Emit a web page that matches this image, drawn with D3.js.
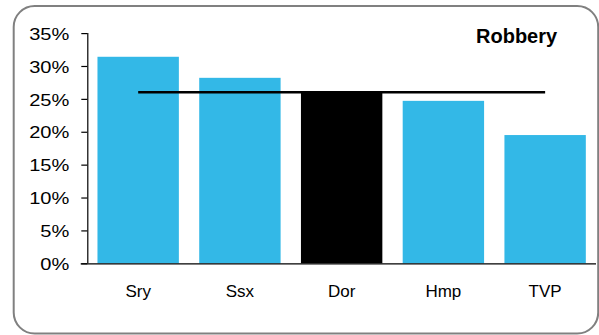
<!DOCTYPE html>
<html>
<head>
<meta charset="utf-8">
<script src="https://cdn.jsdelivr.net/npm/d3@7"></script>
<style>
  html, body { margin: 0; padding: 0; background: #fff; }
  svg { display: block; }
  text { font-family: "Liberation Sans", Arial, sans-serif; fill: #000; }
</style>
</head>
<body>
<svg id="chart" width="599" height="335"></svg>
<script>
const categories = ["Sry", "Ssx", "Dor", "Hmp", "TVP"];
const values = [0.314, 0.282, 0.260, 0.247, 0.195];
const highlight = ["Dor"];
const averageValue = 0.26;
const yTicks = [0, 0.05, 0.10, 0.15, 0.20, 0.25, 0.30, 0.35];
const title = "Robbery";

(function () {
const svg = d3.select("#chart");

// frame
svg.append("rect")
  .attr("x", 13.7).attr("y", 6)
  .attr("width", 584.5).attr("height", 327.5)
  .attr("rx", 21).attr("ry", 21)
  .attr("fill", "#fff")
  .attr("stroke", "#808080")
  .attr("stroke-width", 2);

const pLeft = 87.3, pRight = 596, pTop = 33.1, pBottom = 263.3;

const x = d3.scaleBand().domain(categories).range([pLeft, pRight])
  .paddingInner(0.2).paddingOuter(0.1);
const y = d3.scaleLinear().domain([0, 0.35]).range([pBottom, pTop]);

// bars
svg.append("g").selectAll("rect")
  .data(categories.map((c, i) => ({ c, v: values[i] })))
  .join("rect")
  .attr("x", d => x(d.c))
  .attr("y", d => y(d.v))
  .attr("width", x.bandwidth())
  .attr("height", d => pBottom - y(d.v))
  .attr("fill", d => highlight.includes(d.c) ? "#000000" : "#33B8E7");

// y axis
const yAxis = svg.append("g")
  .attr("transform", `translate(${pLeft},0)`)
  .call(d3.axisLeft(y).tickValues(yTicks).tickFormat(d3.format(".0%")).tickSize(6).tickPadding(0));
yAxis.select(".domain").attr("stroke", "#000").attr("stroke-width", 1.2)
  .attr("d", `M0.5,${pTop}V${pBottom}`);
yAxis.selectAll(".tick line").attr("stroke", "#000").attr("stroke-width", 1.2);
yAxis.selectAll(".tick text")
  .attr("x", null)
  .attr("dy", "0.36em")
  .attr("transform", "translate(-18,0) scale(1.18,1)")
  .style("font-size", "17px")
  .style("font-family", "'Liberation Sans', Arial, sans-serif")
  .attr("fill", "#000");

// x axis
const xAxis = svg.append("g")
  .attr("transform", `translate(0,${pBottom})`)
  .call(d3.axisBottom(x).tickSize(0).tickPadding(0));
xAxis.select(".domain").attr("stroke", "#000").attr("stroke-width", 1.2)
  .attr("d", `M${pLeft - 6.6},0.5H${pRight}`);
xAxis.selectAll(".tick text")
  .attr("y", 33.5)
  .attr("dy", null)
  .style("font-size", "17px")
  .style("font-family", "'Liberation Sans', Arial, sans-serif")
  .attr("fill", "#000");

// average line
svg.append("line")
  .attr("x1", x(categories[0]) + x.bandwidth() / 2)
  .attr("x2", x(categories[categories.length - 1]) + x.bandwidth() / 2)
  .attr("y1", y(averageValue)).attr("y2", y(averageValue))
  .attr("stroke", "#000").attr("stroke-width", 2.5);

// title
svg.append("text")
  .attr("x", 476).attr("y", 43.3)
  .style("font-size", "20px").style("font-weight", "bold")
  .text(title);
})();
</script>
</body>
</html>
